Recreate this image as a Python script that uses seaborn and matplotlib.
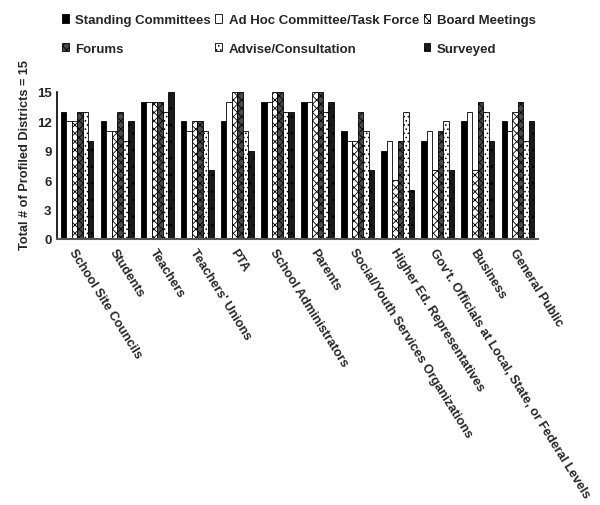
import numpy as np
import pandas as pd
import matplotlib
matplotlib.use("Agg")
import matplotlib.pyplot as plt
from matplotlib.patches import Patch
import seaborn as sns

categories = ["School Site Councils", "Students", "Teachers", "Teachers' Unions", "PTA",
              "School Administrators", "Parents", "Social/Youth Services Organizations",
              "Higher Ed. Representatives", "Gov't. Officials at Local, State, or Federal Levels",
              "Business", "General Public"]
series = ["Standing Committees", "Ad Hoc Committee/Task Force", "Board Meetings",
          "Forums", "Advise/Consultation", "Surveyed"]
standing = [13, 12, 14, 12, 12, 14, 14, 11, 9, 10, 12, 12]
ad_hoc = [12, 11, 14, 11, 14, 14, 14, 10, 10, 11, 13, 11]
board = [12, 11, 14, 12, 15, 15, 15, 10, 6, 7, 7, 13]
forums = [13, 13, 14, 12, 15, 15, 15, 13, 10, 11, 14, 14]
advise = [13, 10, 13, 11, 11, 13, 13, 11, 13, 12, 13, 10]
surveyed = [10, 12, 15, 7, 9, 13, 14, 7, 5, 7, 10, 12]
yticks = [0, 3, 6, 9, 12, 15]
ylabel = "Total # of Profiled Districts = 15"

values = [standing, ad_hoc, board, forums, advise, surveyed]
df = pd.DataFrame({
    "category": np.tile(categories, len(series)),
    "series": np.repeat(series, len(categories)),
    "value": np.concatenate(values),
})

sns.set_style("white")
plt.rcParams["font.family"] = ["Liberation Sans", "DejaVu Sans"]
plt.rcParams["font.weight"] = "bold"
plt.rcParams["hatch.linewidth"] = 0.6

faces = ["#000000", "#ffffff", "#ffffff", "#4a4a4a", "#ffffff", "#1a1a1a"]
hatches = [None, None, "xxxx", "xxxx", "....", ".."]

fig = plt.figure(figsize=(6.0, 5.06), dpi=100)
ax = fig.add_axes([57 / 600, 1 - 240 / 506, (538 - 57) / 600, (240 - 93) / 506])

sns.barplot(data=df, x="category", y="value", hue="series", order=categories,
            hue_order=series, palette=faces, edgecolor="black", linewidth=0.6,
            width=0.82, gap=0, ax=ax, legend=False)

for cont, h in zip(ax.containers, hatches):
    for bar in cont:
        if h:
            bar.set_hatch(h)

ax.set_xlim(-0.5, len(categories) - 0.5)
ax.set_ylim(0, 15)
ax.set_yticks(yticks)
ax.set_yticklabels([str(t) for t in yticks], fontsize=9.5, fontweight="bold")
ax.set_ylabel(ylabel, fontsize=9.2, fontweight="bold")
ax.yaxis.set_label_coords(-0.055, 0.58)
ax.set_xlabel("")
ax.set_xticks(range(len(categories)))
ax.set_xticklabels(categories, rotation=-58, ha="left", va="top",
                   rotation_mode="anchor", fontsize=9.2, fontweight="bold")
ax.tick_params(axis="x", length=0, pad=5)
ax.set_xticks(np.arange(0.5, len(categories) - 0.5, 1), minor=True)
ax.tick_params(axis="x", which="minor", direction="in", length=3, width=1, color="black")
ax.tick_params(axis="y", direction="in", length=5, width=1.2, color="black", pad=4)

for s in ["top", "right"]:
    ax.spines[s].set_visible(False)
ax.spines["left"].set_color("black")
ax.spines["left"].set_linewidth(1.2)
ax.spines["bottom"].set_color("#555555")
ax.spines["bottom"].set_linewidth(1.5)

handles = [Patch(facecolor=f, edgecolor="black", hatch=h, linewidth=0.6) for f, h in zip(faces, hatches)]
order = [0, 3, 1, 4, 2, 5]
fig.legend([handles[i] for i in order], [series[i] for i in order], ncol=3,
           loc="upper left", bbox_to_anchor=(0.088, 0.988), frameon=False,
           handlelength=0.5, handleheight=0.6, handletextpad=0.5,
           columnspacing=0.35, labelspacing=1.25, borderaxespad=0.3,
           prop={"weight": "bold", "size": 9.5})

fig.savefig("out.png", dpi=100)
